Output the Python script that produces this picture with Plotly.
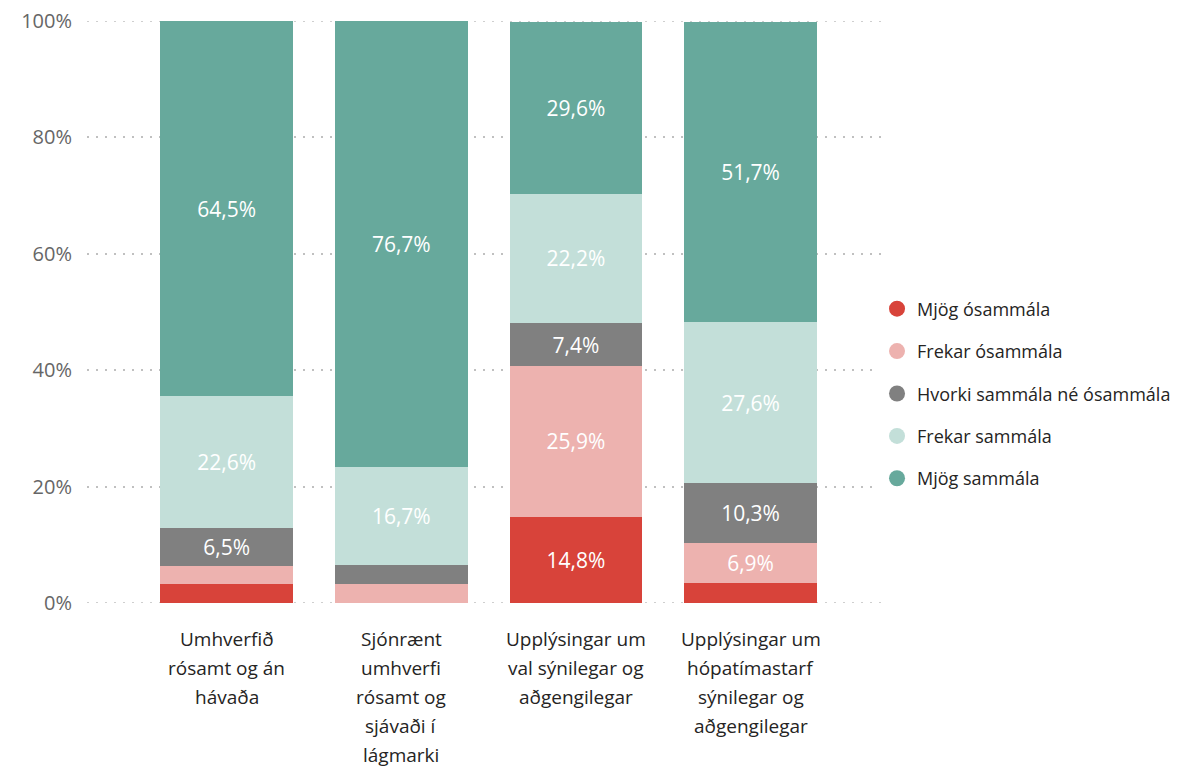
import plotly.graph_objects as go

# categories (x axis), one line per list entry
categories = [
    ['Umhverfið', 'rósamt og án', 'hávaða'],
    ['Sjónrænt', 'umhverfi', 'rósamt og', 'sjávaði í', 'lágmarki'],
    ['Upplýsingar um', 'val sýnilegar og', 'aðgengilegar'],
    ['Upplýsingar um', 'hópatímastarf', 'sýnilegar og', 'aðgengilegar'],
]
cat_keys = [' '.join(c) for c in categories]

series_names = ['Mjög ósammála', 'Frekar ósammála', 'Hvorki sammála né ósammála',
                'Frekar sammála', 'Mjög sammála']

# percentages per answer, in category order
mjog_osammala = [3.2, 0.0, 14.8, 3.4]
frekar_osammala = [3.2, 3.3, 25.9, 6.9]
hvorki = [6.5, 3.3, 7.4, 10.3]
frekar_sammala = [22.6, 16.7, 22.2, 27.6]
mjog_sammala = [64.5, 76.7, 29.6, 51.7]

y_ticks = [0, 20, 40, 60, 80, 100]
y_tick_labels = ['0%', '20%', '40%', '60%', '80%', '100%']

series_values = [mjog_osammala, frekar_osammala, hvorki, frekar_sammala, mjog_sammala]
colors = ['#D8433A', '#EDB2AF', '#808080', '#C3DFD9', '#67A99C']

font = 'Open Sans'
grid_line = dict(color='#c0c0c0', dash='2px,7px', width=1.5)

fig = go.Figure()

for name, vals, col in zip(series_names, series_values, colors):
    labels = [f'{v:.1f}%'.replace('.', ',') if v >= 5 else '' for v in vals]
    fig.add_trace(go.Bar(
        x=cat_keys, y=vals, name=name,
        marker=dict(color=col, line=dict(width=0)),
        text=labels, textposition='inside', insidetextanchor='middle',
        textangle=0, constraintext='none',
        textfont=dict(color='white', size=21, family=font),
        width=0.76, showlegend=False, hoverinfo='x+y+name',
    ))

# legend with round markers
for name, col in zip(series_names, colors):
    fig.add_trace(go.Scatter(
        x=[None], y=[None], mode='markers', name=name,
        marker=dict(color=col, size=18, symbol='circle'),
        legendgroup=name,
    ))

# category labels, written line by line under the bars
for key, lines in zip(cat_keys, categories):
    for i, line in enumerate(lines):
        fig.add_annotation(
            x=key, y=0, xref='x', yref='y', text=line, showarrow=False,
            yanchor='top', yshift=-21 - 29 * i,
            font=dict(size=19, color='#252423', family=font),
        )

# plotly skips grid lines on the plot edges, so draw the 0% / 100% ones here
for edge in (y_ticks[0], y_ticks[-1]):
    fig.add_hline(y=edge, line=grid_line, layer='below')

# page body adds an 8px margin, so the figure is 8px smaller than the window
fig.update_layout(
    barmode='stack',
    width=1171, height=763,
    margin=dict(l=79, r=294, t=13, b=168, autoexpand=False),
    plot_bgcolor='white', paper_bgcolor='white',
    font=dict(family=font),
    legend=dict(
        x=0.99, xanchor='left', y=0.36, yanchor='middle',
        font=dict(size=18, color='#252423', family=font),
        tracegroupgap=16, traceorder='grouped', itemwidth=30,
    ),
    bargap=0.24,
)

fig.update_xaxes(showticklabels=False, showgrid=False, zeroline=False,
                 range=[-0.8, 3.77])
fig.update_yaxes(range=[0, 100], tickmode='array', tickvals=y_ticks,
                 ticktext=y_tick_labels, automargin=False, ticklabeloverflow='allow',
                 showgrid=True, gridcolor=grid_line['color'], griddash=grid_line['dash'],
                 gridwidth=grid_line['width'],
                 zeroline=False, ticks='outside', ticklen=10, tickcolor='white',
                 tickfont=dict(size=20, color='#666666', family=font))

fig.write_html('out.html')
